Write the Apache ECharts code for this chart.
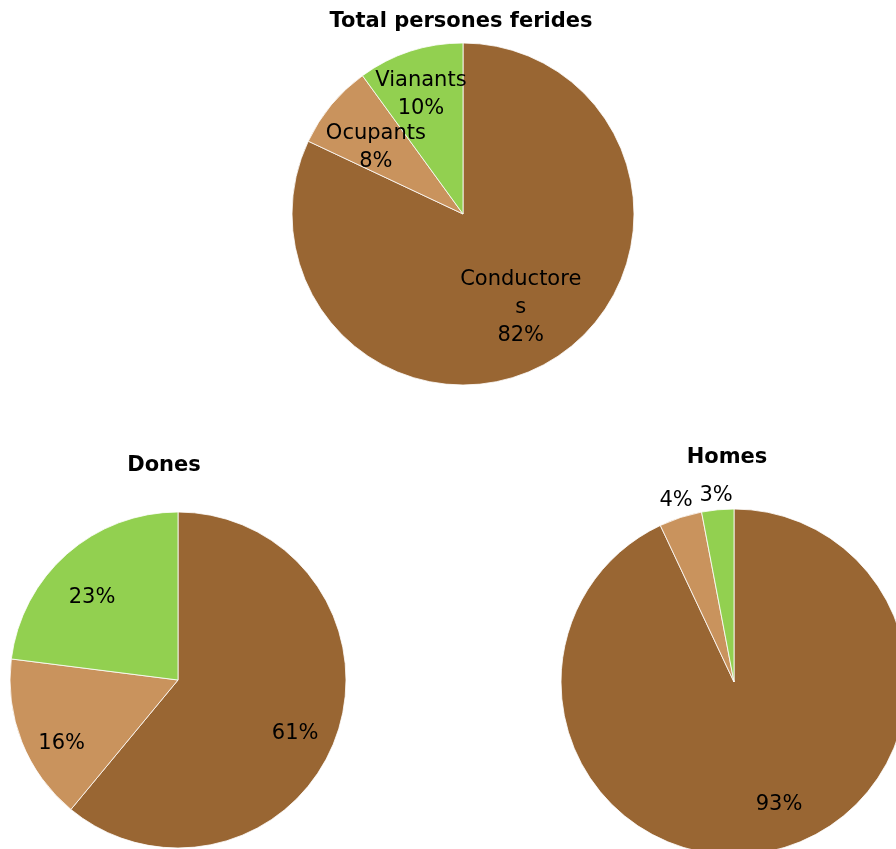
<!DOCTYPE html>
<html>
<head>
<meta charset="utf-8">
<script src="https://cdn.jsdelivr.net/npm/echarts@6/dist/echarts.min.js"></script>
<style>
  html, body { margin: 0; padding: 0; background: #fff; }
  #chart { width: 896px; height: 849px; }
</style>
</head>
<body>
<div id="chart"></div>
<script>
// Injured people by role: drivers, occupants, pedestrians
var categories = ['Conductores', 'Ocupants', 'Vianants'];
var totalValues = [82, 8, 10];
var donesValues = [61, 16, 23];
var homesValues = [93, 4, 3];
var titles = ['Total persones ferides', 'Dones', 'Homes'];

var colors = ['#996633', '#C9935D', '#92D050'];
var FONT = 'DejaVu Sans';

// pie geometry (pixels); label placement as fraction of radius and angular nudge (degrees, clockwise)
var pies = [
  { center: [463, 214], radius: 171, titleTop: 11,  titleX: 461,
    labelFrac: [0.63, 0.65, 0.755], labelTurn: [0, -1.2, -1] },
  { center: [178, 680], radius: 168, titleTop: 455, titleX: 164,
    labelFrac: [0.76, 0.78, 0.72], labelTurn: [3.6, -5.8, -3.9] },
  { center: [734, 682], radius: 173, titleTop: 447, titleX: 727,
    labelFrac: [0.74, 1.12, 1.10], labelTurn: [-8, 0.6, 0] }
];
var seriesValues = [totalValues, donesValues, homesValues];

function makeData(values, withNames) {
  return values.map(function (v, i) {
    var item = { name: categories[i], value: v, itemStyle: { color: colors[i] } };
    var text;
    if (withNames) {
      text = (i === 0 ? 'Conductore\ns' : categories[i]) + '\n' + v + '%';
    } else {
      text = v + '%';
    }
    item.label = { formatter: text };
    return item;
  });
}

function labelLayoutFor(p) {
  return function (params) {
    var r = params.labelRect;
    var cx = r.x + r.width / 2, cy = r.y + r.height / 2;
    var vx = cx - p.center[0], vy = cy - p.center[1];
    var len = Math.sqrt(vx * vx + vy * vy) || 1;
    var ux = vx / len, uy = vy / len;
    var a = p.labelTurn[params.dataIndex] * Math.PI / 180;
    var rx = ux * Math.cos(a) - uy * Math.sin(a);
    var ry = ux * Math.sin(a) + uy * Math.cos(a);
    var d = p.labelFrac[params.dataIndex] * p.radius;
    var tx = p.center[0] + rx * d;
    var ty = p.center[1] + ry * d;
    return { dx: tx - cx, dy: ty - cy + 3 };
  };
}

var chart = echarts.init(document.getElementById('chart'), null, { renderer: 'canvas' });

var option = {
  animation: false,
  backgroundColor: '#ffffff',
  title: pies.map(function (p, i) {
    return {
      text: titles[i],
      left: p.titleX,
      top: p.titleTop,
      textAlign: 'center',
      padding: 0,
      textStyle: { fontFamily: FONT, fontSize: 21, fontWeight: 'bold', color: '#000' }
    };
  }),
  series: pies.map(function (p, i) {
    return {
      type: 'pie',
      center: p.center,
      radius: [0, p.radius],
      startAngle: 90,
      clockwise: true,
      avoidLabelOverlap: false,
      silent: true,
      itemStyle: { borderColor: '#ffffff', borderWidth: 0.8 },
      label: {
        show: true,
        position: 'inside',
        fontFamily: FONT,
        fontSize: 21,
        lineHeight: 28,
        color: '#000'
      },
      labelLine: { show: false },
      labelLayout: labelLayoutFor(p),
      data: makeData(seriesValues[i], i === 0)
    };
  })
};

chart.setOption(option);
</script>
</body>
</html>
